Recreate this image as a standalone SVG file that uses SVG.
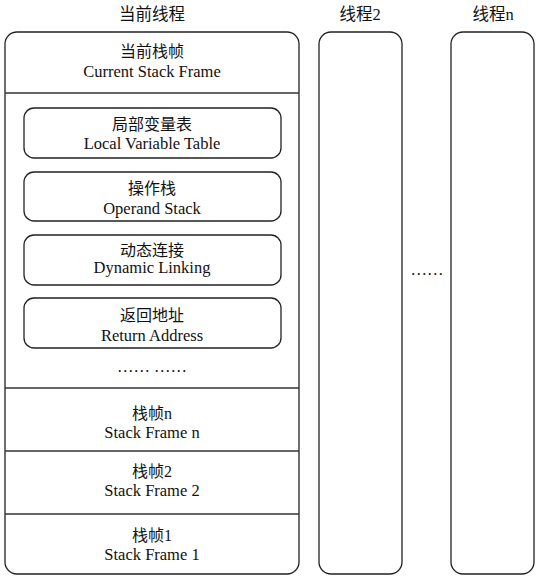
<svg xmlns="http://www.w3.org/2000/svg" width="538" height="583" viewBox="0 0 538 583">
<style>
.box{fill:#fff;stroke:#222;stroke-width:1.3}
.ln{stroke:#333;stroke-width:1.3}
text{font-family:"Liberation Serif","Noto Sans CJK SC",serif;font-size:16.5px;fill:#111;text-anchor:middle}
.zh{font-size:16px}
.h{font-size:16.5px}
</style>
<rect width="538" height="583" fill="#fff"/>
<g id="title-current"><text class="h" x="152" y="20">当前线程</text></g>
<g id="title-2"><text class="h" x="360" y="20">线程2</text></g>
<g id="title-n"><text class="h" x="493" y="20">线程n</text></g>
<g id="thread-current"><rect class="box" x="5" y="32" width="294" height="542" rx="12"/></g>
<g id="thread-2"><rect class="box" x="319" y="32" width="83" height="542" rx="12"/></g>
<g id="thread-n"><rect class="box" x="451" y="32" width="83" height="542" rx="12"/></g>
<g id="dividers">
<line class="ln" x1="5" y1="93" x2="299" y2="93"/>
<line class="ln" x1="5" y1="388" x2="299" y2="388"/>
<line class="ln" x1="5" y1="451" x2="299" y2="451"/>
<line class="ln" x1="5" y1="514" x2="299" y2="514"/>
</g>
<g id="current-frame"><text class="zh" x="152" y="57">当前栈帧</text><text x="152" y="77">Current Stack Frame</text></g>
<g id="local-var"><rect class="box" x="24" y="108" width="257" height="50" rx="10"/><text class="zh" x="152" y="130">局部变量表</text><text x="152" y="149">Local Variable Table</text></g>
<g id="operand"><rect class="box" x="24" y="172" width="257" height="49" rx="10"/><text class="zh" x="152" y="194">操作栈</text><text x="152" y="214">Operand Stack</text></g>
<g id="dynamic"><rect class="box" x="24" y="235" width="257" height="50" rx="10"/><text class="zh" x="152" y="256">动态连接</text><text x="152" y="273">Dynamic Linking</text></g>
<g id="return"><rect class="box" x="24" y="298" width="257" height="50" rx="10"/><text class="zh" x="152" y="321">返回地址</text><text x="152" y="341">Return Address</text></g>
<g id="ellipsis-frame"><text x="152" y="372">…… ……</text></g>
<g id="frame-n"><text class="zh" x="152" y="419">栈帧n</text><text x="152" y="438">Stack Frame n</text></g>
<g id="frame-2"><text class="zh" x="152" y="477">栈帧2</text><text x="152" y="496">Stack Frame 2</text></g>
<g id="frame-1"><text class="zh" x="152" y="541">栈帧1</text><text x="152" y="560">Stack Frame 1</text></g>
<g id="ellipsis-threads"><text x="427" y="275">……</text></g>
<g id="connectors"></g>
</svg>
